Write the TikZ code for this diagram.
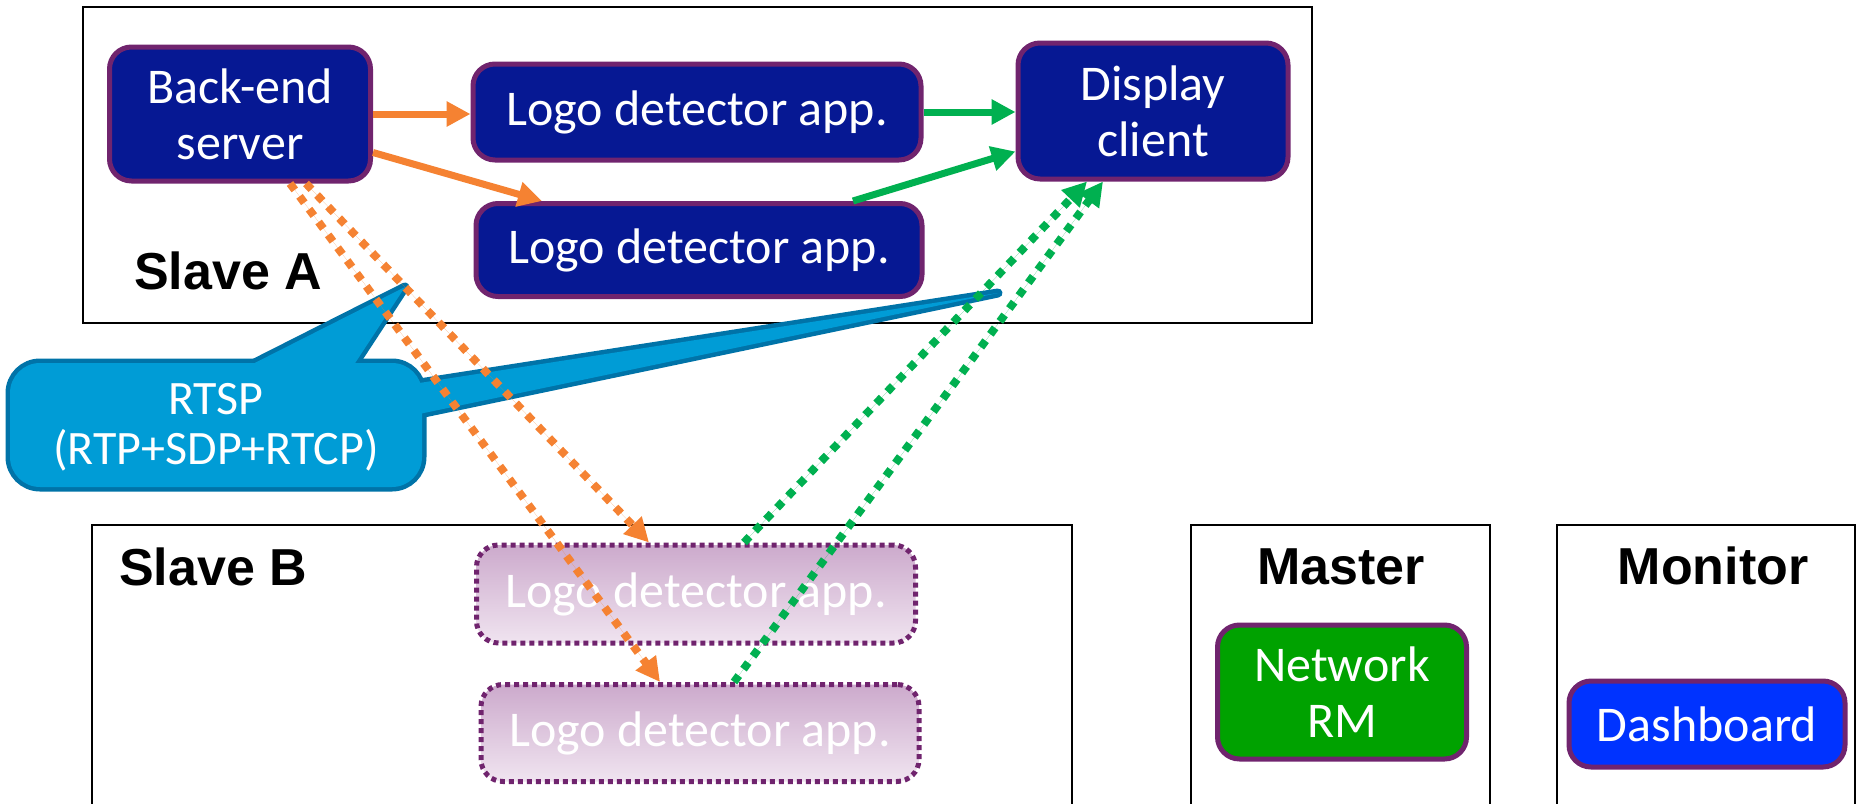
\documentclass[tikz,border=0pt]{standalone}
\usepackage{fontspec}
\setmainfont{Carlito}
\newfontfamily\labelfont{Liberation Sans}
\usetikzlibrary{arrows.meta}

\definecolor{navybox}{RGB}{6,24,147}
\definecolor{boxedge}{RGB}{112,36,110}
\definecolor{orangeln}{RGB}{245,130,50}
\definecolor{greenln}{RGB}{0,176,80}
\definecolor{rmgreen}{RGB}{0,162,0}
\definecolor{dashblue}{RGB}{0,51,255}
\definecolor{calloutfill}{RGB}{0,156,214}
\definecolor{calloutedge}{RGB}{0,115,168}
\definecolor{ghosttop}{RGB}{204,170,204}
\definecolor{ghostbot}{RGB}{240,228,240}

\tikzset{
  frame/.style={draw=black, line width=2pt},
  hostlabel/.style={font=\labelfont\bfseries\fontsize{52}{60}\selectfont, text=black, inner sep=0pt},
  appbox/.style={rectangle, rounded corners=22pt, draw=boxedge, line width=5pt,
    fill=navybox, text=white, align=center, inner sep=0pt,
    font=\fontsize{50}{56}\selectfont},
  ghostbox/.style={appbox, fill=none, top color=ghosttop, bottom color=ghostbot,
    dash pattern=on 5pt off 4pt},
  bluebubble/.style={text=white, align=center, inner sep=0pt,
    font=\fontsize{48}{50}\selectfont},
  tipshape/.style={-{Triangle[length=24pt,width=24pt]}},
  solidorange/.style={tipshape, draw=orangeln, fill=orangeln, line width=7pt},
  solidgreen/.style={tipshape, draw=greenln, fill=greenln, line width=7pt},
  dotorange/.style={solidorange, line width=8pt, dash pattern=on 8pt off 8pt},
  dotgreen/.style={solidgreen, line width=8pt, dash pattern=on 8pt off 8pt},
}

\begin{document}
\begin{tikzpicture}[x=1pt, y=-1pt]
\useasboundingbox (0,0) rectangle (1857,803);

% host frames
\draw[frame] (83,7) rectangle (1312,323);
\draw[frame] (92,525) rectangle (1072,830);
\draw[frame] (1191,525) rectangle (1490,830);
\draw[frame] (1557,525) rectangle (1855,830);

\node[hostlabel] (slaveA) at (228,271) {Slave A};
\node[hostlabel] (slaveB) at (213,567) {Slave B};
\node[hostlabel] (master) at (1341,567) {Master};
\node[hostlabel] (monitor) at (1713,566) {Monitor};

% Slave A components
\node[appbox, minimum width=261pt, minimum height=134pt] (backend) at (240,114) {Back-end\\server};
\node[appbox, minimum width=448pt, minimum height=96pt] (tla) at (697,112) {Logo detector app.};
\node[appbox, minimum width=446pt, minimum height=93pt] (tlb) at (699,250) {Logo detector app.};
\node[appbox, minimum width=270pt, minimum height=136pt] (display) at (1153,111) {Display\\client};

% Slave B components
\node[ghostbox, minimum width=439pt, minimum height=98pt] (lba) at (696,594) {Logo detector app.};
\node[ghostbox, minimum width=438pt, minimum height=97pt] (lbb) at (700,733) {Logo detector app.};

% Master and Monitor components
\node[appbox, fill=rmgreen, minimum width=249pt, minimum height=134pt] (netrm) at (1342,692) {Network\\RM};
\node[appbox, fill=dashblue, minimum width=276pt, minimum height=86pt] (dash) at (1707,724) {Dashboard};

% RTSP callout with two pointers
\coordinate (tipA) at (405,287);
\coordinate (tipB) at (998,293);
\path[draw=calloutedge, line width=9pt, line join=round]
  (221,380) -- (tipA) -- (344,380) -- cycle
  (400,386) -- (tipB) -- (400,418) -- cycle;
\draw[calloutedge, line width=9pt, rounded corners=30pt] (10,363) rectangle (422,487);
\fill[calloutfill, rounded corners=30pt] (10,363) rectangle (422,487);
\fill[calloutfill] (221,380) -- (tipA) -- (344,380) -- cycle
  (400,386) -- (tipB) -- (400,418) -- cycle;
\node[bluebubble] (rtsp) at (216,427) {RTSP\\(RTP+SDP+RTCP)};

% local streams
\draw[solidorange] (backend.east) -- (backend.east -| tla.west);
\draw[solidorange] ([yshift=31pt]backend.south east) -- ([xshift=-157pt]tlb.north);
\draw[solidgreen] (tla.east) -- (tla.east -| display.west);
\draw[solidgreen] ([xshift=154pt]tlb.north) -- ([yshift=30pt]display.south west);

% remote streams
\draw[dotorange] ([xshift=50pt]backend.south) -- ([xshift=-40pt]lbb.north);
\draw[dotorange] ([xshift=66pt]backend.south) -- ([xshift=-47pt]lba.north);
\draw[dotgreen] ([xshift=48pt]lba.north) -- ([xshift=-66pt]display.south);
\draw[dotgreen] ([xshift=34pt]lbb.north) -- ([xshift=-50pt]display.south);
\end{tikzpicture}
\end{document}
